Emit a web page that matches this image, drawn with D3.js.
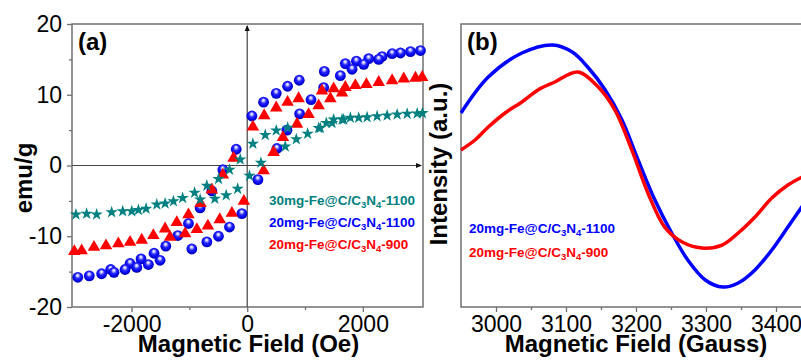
<!DOCTYPE html>
<html>
<head>
<meta charset="utf-8">
<script src="https://cdn.jsdelivr.net/npm/d3@7"></script>
<style>
  body { margin: 0; background: #fff; }
  svg { display: block; font-family: 'Liberation Sans', Arial, sans-serif; }
</style>
</head>
<body>
<div id="chart"></div>
<script>
// (a) M-H loops: [field (Oe), magnetisation (emu/g)]
const loop30mg1100 = [
  [3030, 7.4], [2939, 7.35], [2766, 7.3], [2593, 7.2], [2420, 7.07], [2246, 6.97], [2073, 6.83],
  [1928, 6.74], [1784, 6.74], [1640, 6.5], [1495, 6.5], [1368, 6.0], [1264, 5.3],
  [700, 5.35], [502, 4.95], [312, 4.3], [98, 3.07],
  [-121, 0.85], [-306, -0.6], [-497, -1.9], [-698, -2.85], [-910, -3.85], [-1117, -4.6],
  [-1276, -5.05], [-1420, -5.37], [-1564, -5.5], [-1749, -6.1], [-1882, -6.3], [-1997, -6.46],
  [-2153, -6.46], [-2344, -6.6], [-2604, -6.93], [-2777, -6.83], [-2962, -6.93],
  [-814, -4.8], [-560, -4.7], [-364, -4.2], [-165, -3.3], [40, -1.45],
  [237, 0.4], [658, 2.7], [849, 3.7], [1045, 4.5], [1235, 5.3], [1467, 6.0], [1668, 6.5],
];
const loop20mg1100 = [
  [2996, 16.25], [2823, 16.1], [2650, 15.9], [2506, 15.8], [2333, 15.4], [2101, 15.1], [1888, 14.75],
  [1697, 14.4], [1334, 13.3], [900, 12.05], [698, 11.2], [502, 10.2], [283, 8.95], [81, 7.0],
  [-190, 2.3], [-421, -0.6], [-612, -3.6], [-814, -6.0], [-1016, -8.2], [-1200, -9.9],
  [-1408, -11.4], [-1611, -12.4], [-1836, -13.2], [-2026, -13.85], [-2361, -14.7], [-2930, -15.8],
  [-2731, -15.6], [-2517, -15.3], [-2304, -15.1], [-2113, -14.7], [-1910, -14.4], [-1709, -14.0],
  [-1507, -13.4], [-958, -11.8], [-698, -10.8], [-497, -10.0], [-307, -8.7], [-92, -6.8],
  [185, -2.0], [514, 2.4], [687, 5.0], [906, 7.3], [1103, 9.3], [1322, 11.0], [1611, 12.7],
  [1813, 13.6], [2015, 14.3], [2274, 15.0],
];
const loop20mg900 = [
  [3026, 12.6], [2910, 12.5], [2707, 12.4], [2506, 12.15], [2274, 11.9], [2061, 11.6], [1870, 11.45],
  [1697, 11.2], [1495, 11.0], [1293, 10.7], [889, 9.6], [698, 9.1], [502, 8.3], [294, 7.2], [98, 5.6],
  [-236, 1.2], [-421, -1.2], [-612, -3.3], [-808, -5.2], [-1016, -6.8], [-1218, -7.9], [-1420, -8.8],
  [-2990, -12.0], [-2863, -11.9], [-2650, -11.4], [-2442, -11.2], [-2229, -10.9], [-2026, -10.7],
  [-1824, -10.4], [-1623, -9.75], [-1334, -10.0], [-1074, -9.5], [-871, -8.9], [-680, -8.4],
  [-475, -7.5], [-265, -6.6], [-58, -4.9],
  [283, -0.6], [456, 2.0], [618, 4.1], [861, 6.0], [1062, 7.35], [1235, 8.6], [1438, 9.6], [1640, 10.4],
];
const legendA = ['30mg-Fe@C/C3N4-1100', '20mg-Fe@C/C3N4-1100', '20mg-Fe@C/C3N4-900'];
const fieldTicksOe = [-2000, 0, 2000];
const fieldMinorOe = [-1000, 1000];
const magTicks = [-20, -10, 0, 10, 20];
const magMinor = [-15, -5, 5, 15];

// (b) EPR spectra: field (Gauss) and intensity (a.u.)
const eprField1100 = [2950, 2989, 3037, 3081, 3109, 3131, 3156, 3180, 3203, 3227, 3251, 3274, 3299, 3324, 3346, 3370, 3394, 3417, 3440];
const eprSignal1100 = [37.1, 62.5, 79.5, 85.2, 80.2, 69.6, 53.4, 32.2, 3.9, -24.4, -47.7, -66.8, -80.9, -85.9, -83.0, -73.8, -59.7, -43.5, -27];
const eprField900 = [2950, 2970, 2989, 3013, 3037, 3060, 3084, 3117, 3146, 3170, 3194, 3217, 3241, 3266, 3294, 3323, 3346, 3370, 3394, 3417, 3440];
const eprSignal900 = [11.0, 18.0, 27.2, 37.1, 44.9, 53.4, 59.0, 66.1, 55.5, 39.2, 11.0, -19.4, -43.5, -54.1, -58.3, -56.2, -47.7, -36.4, -23.0, -13.8, -7.5];
const legendB = ['20mg-Fe@C/C3N4-1100', '20mg-Fe@C/C3N4-900'];
const gaussTicks = [3000, 3100, 3200, 3300, 3400];
const gaussMinor = [3050, 3150, 3250, 3350];

const blue = '#0000ff';
const red = '#ff0000';
const teal = '#008080';
const frameColor = '#707070';

const svg = d3.select('#chart').append('svg').attr('width', 801).attr('height', 362);
svg.append('rect').attr('width', 801).attr('height', 362).attr('fill', '#fff');

// sphere look for the blue markers
const grad = svg.append('defs').append('radialGradient')
  .attr('id', 'sphere').attr('cx', '50%').attr('cy', '45%').attr('r', '55%')
  .attr('fx', '48%').attr('fy', '30%');
[[0, '#ffffff'], [0.2, '#c0c0ff'], [0.45, '#2a2aff'], [0.8, '#0000e8'], [1, '#0000a0']]
  .forEach(([o, c]) => grad.append('stop').attr('offset', o).attr('stop-color', c));

// legend text with the C3N4 subscripts
const drawLabel = (g, label, x, y, color) => {
  const m = label.match(/^(.*C\/C)3N4(.*)$/);
  const t = g.append('text').attr('x', x).attr('y', y).attr('fill', color)
    .attr('font-size', '13.5px').attr('font-weight', 'bold');
  t.append('tspan').text(m[1]);
  t.append('tspan').text('3').attr('font-size', '9.5px').attr('dy', 3);
  t.append('tspan').text('N').attr('dy', -3);
  t.append('tspan').text('4').attr('font-size', '9.5px').attr('dy', 3);
  t.append('tspan').text(m[2]).attr('dy', -3);
};

const styleAxis = (g) => {
  g.select('.domain').remove();
  g.selectAll('line').attr('stroke', frameColor).attr('stroke-width', 1.3);
  g.selectAll('text').attr('font-size', '23px').attr('fill', '#000');
};

// ---------- panel (a) ----------
const a = { left: 72, right: 423, top: 24, bottom: 307 };
const xA = d3.scaleLinear().domain([-3030, 3040]).range([a.left, a.right]);
const yA = d3.scaleLinear().domain([-20, 20]).range([a.bottom, a.top]);

svg.append('g').attr('transform', `translate(${a.left},0)`)
  .call(d3.axisLeft(yA).tickValues(magTicks).tickSize(5).tickPadding(5).tickFormat((d) => String(d)))
  .call(styleAxis);
svg.append('g').attr('transform', `translate(${a.left},0)`)
  .call(d3.axisLeft(yA).tickValues(magMinor).tickSize(3).tickFormat(''))
  .call(styleAxis);
svg.append('g').attr('transform', `translate(0,${a.bottom})`)
  .call(d3.axisBottom(xA).tickValues(fieldTicksOe).tickSize(5).tickPadding(4).tickFormat((d) => String(d)))
  .call(styleAxis);
svg.append('g').attr('transform', `translate(0,${a.bottom})`)
  .call(d3.axisBottom(xA).tickValues(fieldMinorOe).tickSize(3).tickFormat(''))
  .call(styleAxis);

svg.append('rect')
  .attr('x', a.left).attr('y', a.top)
  .attr('width', a.right - a.left).attr('height', a.bottom - a.top)
  .attr('fill', 'none').attr('stroke', frameColor).attr('stroke-width', 1.5);

// zero cross with arrows
svg.append('line')
  .attr('x1', xA(0)).attr('x2', xA(0)).attr('y1', a.bottom).attr('y2', a.top + 2)
  .attr('stroke', '#444').attr('stroke-width', 1.2);
svg.append('line')
  .attr('x1', a.left).attr('x2', a.right - 2).attr('y1', yA(0)).attr('y2', yA(0))
  .attr('stroke', '#444').attr('stroke-width', 1.2);
svg.append('path')
  .attr('d', `M${xA(0)},${a.top + 1} l-2.5,6 l5,0 z`).attr('fill', '#111');
svg.append('path')
  .attr('d', `M${a.right - 1},${yA(0)} l-6,-2.5 l0,5 z`).attr('fill', '#111');

// markers
svg.append('g').selectAll('circle').data(loop20mg1100).join('circle')
  .attr('cx', (d) => xA(d[0])).attr('cy', (d) => yA(d[1]))
  .attr('r', 5.4).attr('fill', 'url(#sphere)');
const tri = d3.symbol(d3.symbolTriangle, 68);
svg.append('g').selectAll('path').data(loop20mg900).join('path')
  .attr('d', tri).attr('transform', (d) => `translate(${xA(d[0])},${yA(d[1]) + 1})`)
  .attr('fill', red);
const star = d3.symbol(d3.symbolStar, 48);
svg.append('g').selectAll('path').data(loop30mg1100).join('path')
  .attr('d', star).attr('transform', (d) => `translate(${xA(d[0])},${yA(d[1])})`)
  .attr('fill', teal);

// labels
svg.append('text').attr('x', 78).attr('y', 50).attr('font-size', '24px').attr('font-weight', 'bold').text('(a)');
svg.append('text').attr('x', (a.left + a.right) / 2 + 1).attr('y', 352)
  .attr('text-anchor', 'middle').attr('font-size', '24px').attr('font-weight', 'bold')
  .text('Magnetic Field (Oe)');
svg.append('text').attr('transform', 'translate(32,178) rotate(-90)')
  .attr('text-anchor', 'middle').attr('font-size', '24px').attr('font-weight', 'bold')
  .text('emu/g');

const legA = svg.append('g');
[teal, blue, red].forEach((c, i) => drawLabel(legA, legendA[i], 269, 205 + i * 22, c));

// ---------- panel (b) ----------
const b = { left: 461, right: 811, top: 24, bottom: 307 };
const xB = d3.scaleLinear().domain([2950, 3450]).range([b.left, b.right]);
const yB = d3.scaleLinear().domain([-100, 100]).range([b.bottom, b.top]);

svg.append('g').attr('transform', `translate(0,${b.bottom})`)
  .call(d3.axisBottom(xB).tickValues(gaussTicks).tickSize(5).tickPadding(4).tickFormat((d) => String(d)))
  .call(styleAxis);
svg.append('g').attr('transform', `translate(0,${b.bottom})`)
  .call(d3.axisBottom(xB).tickValues(gaussMinor).tickSize(3).tickFormat(''))
  .call(styleAxis);

svg.append('rect')
  .attr('x', b.left).attr('y', b.top)
  .attr('width', b.right - b.left).attr('height', b.bottom - b.top)
  .attr('fill', 'none').attr('stroke', frameColor).attr('stroke-width', 1.5);

const line = d3.line().curve(d3.curveCatmullRom.alpha(0.5));
svg.append('path')
  .attr('d', line(eprField1100.map((g, i) => [xB(g), yB(eprSignal1100[i])])))
  .attr('fill', 'none').attr('stroke', blue).attr('stroke-width', 3.5);
svg.append('path')
  .attr('d', line(eprField900.map((g, i) => [xB(g), yB(eprSignal900[i])])))
  .attr('fill', 'none').attr('stroke', red).attr('stroke-width', 3.5);

svg.append('text').attr('x', 467).attr('y', 50).attr('font-size', '24px').attr('font-weight', 'bold').text('(b)');
svg.append('text').attr('x', 636).attr('y', 352)
  .attr('text-anchor', 'middle').attr('font-size', '24px').attr('font-weight', 'bold')
  .text('Magnetic Field (Gauss)');
svg.append('text').attr('transform', 'translate(447,164) rotate(-90)')
  .attr('text-anchor', 'middle').attr('font-size', '24px').attr('font-weight', 'bold')
  .text('Intensity (a.u.)');

const legB = svg.append('g');
[blue, red].forEach((c, i) => drawLabel(legB, legendB[i], 469, 233 + i * 24, c));
</script>
</body>
</html>
